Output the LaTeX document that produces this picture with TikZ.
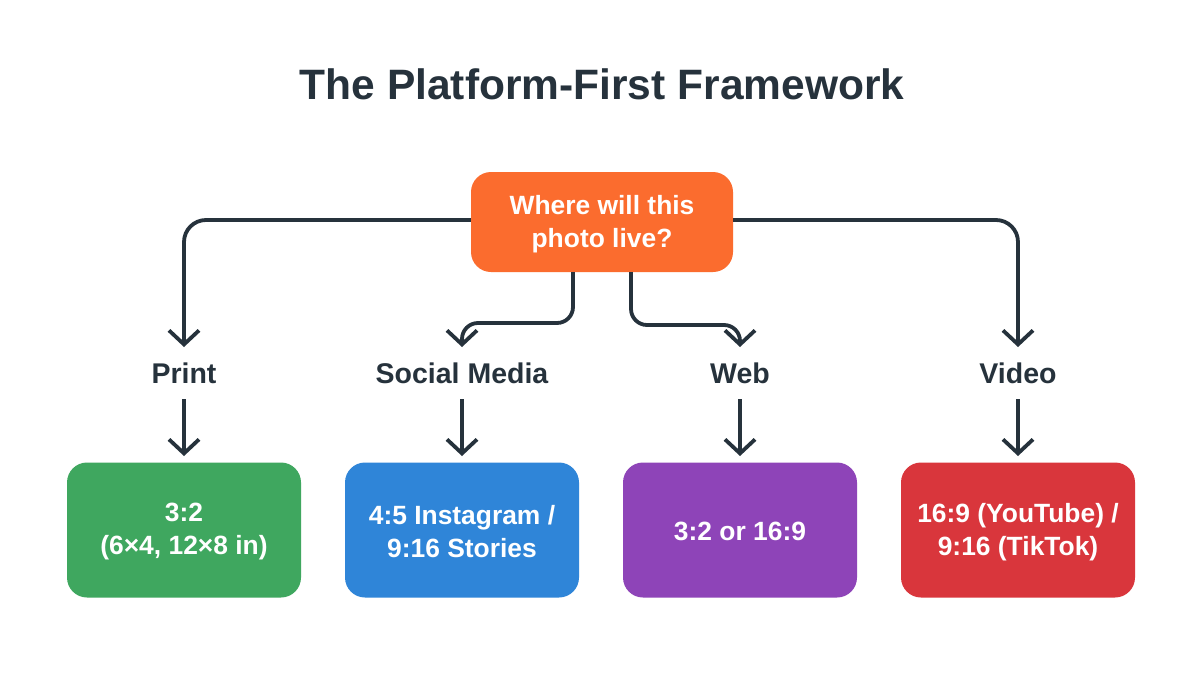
\documentclass[tikz,border=0pt]{standalone}
\usepackage{fontspec}
\setmainfont{Liberation Sans}
\usetikzlibrary{arrows.meta}
\definecolor{ink}{HTML}{26323C}
\definecolor{corg}{HTML}{FB6C2E}
\definecolor{cgrn}{HTML}{3FA75F}
\definecolor{cblu}{HTML}{2F85D8}
\definecolor{cpur}{HTML}{8E44B8}
\definecolor{cred}{HTML}{D9363C}
\tikzset{
 x=1pt,y=-1pt,
 shape box/.style={rounded corners=20pt,minimum width=234pt,minimum height=135pt,inner sep=0pt},
 boxtext/.style={text=white,font=\fontsize{26.4}{33}\selectfont\bfseries,align=center,inner sep=0pt},
 lab/.style={text=ink,font=\fontsize{28.5}{32}\selectfont\bfseries,inner sep=0pt},
 conn/.style={draw=ink,line width=3.8pt,rounded corners=22pt,-{Straight Barb[length=14pt,width=30pt,line width=3.8pt]}},
}
\begin{document}
\begin{tikzpicture}
\useasboundingbox (0,0) rectangle (1204,672);
\fill[white] (0,0) rectangle (1204,672);
\node[text=ink,font=\fontsize{42.5}{48}\selectfont\bfseries,inner sep=0pt] (title) at (602,84) {The Platform-First Framework};
\node[shape box,fill=corg,minimum width=262pt,minimum height=100pt] (q) at (602,222) {};
\node[boxtext] (qt) at (602,224) {Where will this\\photo live?};
\node[lab] (l1) at (184,373) {Print};
\node[lab] (l2) at (462,373) {Social Media};
\node[lab] (l3) at (740,373) {Web};
\node[lab] (l4) at (1018,373) {Video};
\node[shape box,fill=cgrn] (b1) at (184,530) {};
\node[shape box,fill=cblu] (b2) at (462,530) {};
\node[shape box,fill=cpur] (b3) at (740,530) {};
\node[shape box,fill=cred] (b4) at (1018,530) {};
\node[boxtext] (t1) at (184,532) {3:2\\(6×4, 12×8 in)};
\node[boxtext] (t2) at (462,532) {4:5 Instagram /\\9:16 Stories};
\node[boxtext] (t3) at (740,531) {3:2 or 16:9};
\node[boxtext] (t4) at (1018,532) {16:9 (YouTube) /\\9:16 (TikTok)};
\coordinate (a1) at (184,347);
\coordinate (a2) at (462,347);
\coordinate (a3) at (740,347);
\coordinate (a4) at (1018,347);
\draw[conn] (q.west|-0,220) -- (184,220) -- (a1);
\draw[conn] (q.east|-0,220) -- (1018,220) -- (a4);
\draw[conn,rounded corners=16pt] (573,272) -- (573,323) -- (462,323) -- (a2);
\draw[conn,rounded corners=16pt] (631,272) -- (631,325) -- (740,325) -- (a3);
\foreach \i in {1,2,3,4}{
 \coordinate (s\i) at (l\i.center|-0,399);
 \coordinate (e\i) at (l\i.center|-0,456);
 \draw[conn] (s\i) -- (e\i);
}
\end{tikzpicture}
\end{document}
